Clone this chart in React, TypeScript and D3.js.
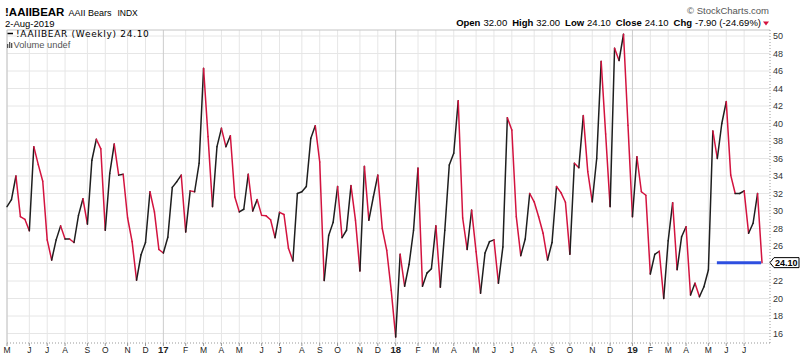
import React from "react";
import * as d3 from "d3";

// Weekly AAII Bears readings, 5-May-2016 .. 2-Aug-2019
const bearValues: number[] = [
  30.5, 31.3, 34.0, 29.35, 29.05, 27.75, 37.35, 35.3, 33.4, 26.7,
  24.4, 26.7, 28.3, 26.8, 26.8, 26.4, 29.5, 31.4, 28.5, 35.8,
  38.2, 37.1, 27.8, 34.3, 37.65, 34.1, 34.2, 29.2, 26.5, 22.1,
  25.0, 26.4, 32.2, 29.9, 25.6, 25.2, 27.0, 32.7, 33.35, 34.1,
  27.6, 32.3, 32.2, 35.45, 46.3, 38.5, 30.5, 37.35, 39.45, 37.35,
  38.6, 31.6, 29.9, 30.2, 34.2, 30.0, 31.3, 29.5, 29.45, 29.0,
  26.95, 29.85, 29.6, 25.75, 24.3, 32.0, 32.2, 32.8, 38.3, 39.75,
  35.6, 22.05, 27.2, 28.7, 32.8, 26.95, 27.8, 32.9, 28.95, 23.15,
  35.1, 28.95, 31.6, 34.1, 28.0, 25.5, 20.95, 15.6, 25.05, 21.4,
  23.9, 27.8, 34.9, 21.4, 22.9, 23.4, 28.3, 21.3, 27.8, 35.25,
  36.6, 42.6, 29.2, 25.6, 30.1, 25.35, 20.6, 25.2, 26.5, 26.7,
  21.75, 25.9, 40.65, 39.25, 29.35, 24.9, 26.8, 32.0, 31.05, 29.35,
  27.45, 24.4, 26.4, 32.8, 32.1, 31.0, 25.05, 35.45, 34.95, 40.9,
  34.5, 31.05, 36.0, 47.1, 38.8, 30.5, 48.6, 47.2, 50.2, 39.8,
  29.35, 36.2, 32.2, 31.8, 22.8, 25.05, 25.4, 20.0, 26.6, 30.95,
  23.3, 27.05, 28.2, 20.4, 21.75, 20.2, 21.35, 23.25, 39.15, 36.0,
  40.0, 42.5, 34.1, 32.0, 32.0, 32.3, 27.45, 28.6, 32.0, 24.1,
];

// Month tick labels and the week index (first weekly bar of the month)
const monthLabels: string[] = [
  "M", "J", "J", "A", "S", "O", "N", "D", "17", "F", "M", "A", "M",
  "J", "J", "A", "S", "O", "N", "D", "18", "F", "M", "A", "M",
  "J", "J", "A", "S", "O", "N", "D", "19", "F", "M", "A", "M", "J", "J",
];
const monthWeeks: number[] = [
  0, 5, 9, 13, 18, 22, 27, 31, 35, 40, 44, 48, 52,
  57, 61, 66, 70, 74, 79, 83, 87, 92, 96, 100, 105,
  109, 113, 118, 122, 126, 131, 135, 140, 144, 148, 152, 157, 161, 165,
];

const yTicks: number[] = [16, 18, 20, 22, 24, 26, 28, 30, 32, 34, 36, 38, 40, 42, 44, 46, 48, 50];

// Horizontal annotation line (blue)
const blueLineWeeks: number[] = [158.9, 168.8];
const blueLineValue = 24.1;

const lastValue = 24.1;
const ohlcLabels: string[] = ["Open", "High", "Low", "Close", "Chg"];
const ohlcValues: string[] = ["32.00", "32.00", "24.10", "24.10", "-7.90 (-24.69%)"];

const W = 800;
const H = 357;
const plotLeft = 7;
const plotRight = 770;
const plotTop = 30;
const plotBottom = 343;

const SANS = "'Liberation Sans', Arial, Helvetica, sans-serif";
const VERD = "'DejaVu Sans', Verdana, sans-serif";
const RED = "#d3133f";
const BLACK = "#1e1e1e";

export default function App() {
  const x = d3.scaleLinear().domain([0, bearValues.length - 1]).range([7, 762]);
  const y = d3.scaleLinear().domain([16, 50]).range([333.5, 36]);
  const seg = d3
    .line<[number, number]>()
    .x((d) => x(d[0]))
    .y((d) => y(d[1]));

  const segments = bearValues.slice(1).map((v, k) => {
    const prev = bearValues[k];
    return {
      d: seg([
        [k, prev],
        [k + 1, v],
      ]) as string,
      color: v >= prev ? BLACK : RED,
    };
  });

  const lastY = y(lastValue);

  return (
    <svg
      width={W}
      height={H}
      style={{ position: "absolute", left: 0, top: 0, background: "#fff" }}
    >
      {/* Header */}
      <text x={5} y={16} fontFamily={SANS} fill="#000">
        <tspan fontSize={11.5} fontWeight="bold">!AAIIBEAR</tspan>
        <tspan dx={4} fontSize={9}>AAII Bears</tspan>
        <tspan dx={6} fontSize={8.5}>INDX</tspan>
      </text>
      <text x={5} y={27} fontFamily={SANS} fontSize={9.5} fill="#000">
        2-Aug-2019
      </text>
      <text x={769} y={14} fontFamily={SANS} fontSize={9.5} fill="#555" textAnchor="end">
        © StockCharts.com
      </text>
      <text x={761} y={26} fontFamily={SANS} fontSize={9.5} fill="#000" textAnchor="end">
        {ohlcLabels.map((l, i) => (
          <React.Fragment key={l}>
            <tspan fontWeight="bold" dx={i === 0 ? 0 : 5}>{l}</tspan>
            <tspan dx={3}>{ohlcValues[i]}</tspan>
          </React.Fragment>
        ))}
      </text>
      <path d="M763,21.5 L769,21.5 L766,25.5 Z" fill={RED} />

      {/* Grid */}
      {yTicks.map((t) => (
        <line key={"h" + t} x1={plotLeft} x2={plotRight} y1={y(t)} y2={y(t)} stroke="#e6e6e6" strokeWidth={1} />
      ))}
      {monthWeeks.map((w, i) => (
        <line
          key={"v" + i}
          x1={x(w)}
          x2={x(w)}
          y1={plotTop}
          y2={plotBottom}
          stroke={/\d/.test(monthLabels[i]) ? "#cdcdcd" : "#e6e6e6"}
          strokeWidth={1}
        />
      ))}

      {/* Frame */}
      <line x1={plotLeft} x2={plotRight} y1={plotTop} y2={plotTop} stroke="#c4c4c4" />
      <line x1={plotLeft} x2={plotLeft} y1={plotTop} y2={plotBottom} stroke="#c4c4c4" />
      <line x1={plotRight} x2={plotRight} y1={plotTop} y2={plotBottom} stroke="#999" strokeDasharray="1,2" />
      <line x1={plotLeft} x2={plotRight} y1={plotBottom} y2={plotBottom} stroke="#999" strokeDasharray="1,2" />

      {/* Legend */}
      <line x1={7.5} x2={13} y1={33.5} y2={33.5} stroke="#000" strokeWidth={1.5} />
      <text x={16} y={37} fontFamily={VERD} fontSize={9} letterSpacing={0.7} fill="#000">
        !AAIIBEAR (Weekly) 24.10
      </text>
      <g fill="#555">
        <rect x={7} y={44} width={1.3} height={4} />
        <rect x={9} y={42} width={1.3} height={6} />
        <rect x={11} y={43} width={1.3} height={5} />
      </g>
      <text x={13.5} y={48} fontFamily={SANS} fontSize={9.3} fill="#555">
        Volume undef
      </text>

      {/* Series */}
      <g fill="none" strokeWidth={1.5} strokeLinecap="round" strokeLinejoin="round">
        {segments.map((s, i) => (
          <path key={i} d={s.d} stroke={s.color} />
        ))}
      </g>

      {/* Blue annotation line */}
      <line
        x1={x(blueLineWeeks[0])}
        x2={x(blueLineWeeks[1])}
        y1={y(blueLineValue)}
        y2={y(blueLineValue)}
        stroke="#2e4fe0"
        strokeWidth={3}
      />

      {/* Right axis (labels hidden behind the last-value box are skipped) */}
      {yTicks
        .filter((t) => Math.abs(y(t) - lastY) > 8)
        .map((t) => (
          <text key={"yl" + t} x={773} y={y(t) + 3.2} fontFamily={SANS} fontSize={9} fill="#333">
            {t}
          </text>
        ))}
      <g>
        <path
          d={`M770,${lastY} L774,${lastY - 5} L799,${lastY - 5} L799,${lastY + 5} L774,${lastY + 5} Z`}
          fill="#fff"
          stroke="#000"
          strokeWidth={1}
        />
        <text x={775} y={lastY + 3.3} fontFamily={SANS} fontSize={9} fontWeight="bold" fill="#000">
          {lastValue.toFixed(2)}
        </text>
      </g>

      {/* Bottom axis */}
      {monthWeeks.map((w, i) => (
        <line key={"t" + i} x1={x(w)} x2={x(w)} y1={plotBottom} y2={plotBottom + 3} stroke="#999" />
      ))}
      {monthLabels.map((l, i) => {
        const isYear = /\d/.test(l);
        return (
          <text
            key={"xl" + i}
            x={x(monthWeeks[i])}
            y={353}
            textAnchor="middle"
            fontFamily={SANS}
            fontSize={isYear ? 9.5 : 8.5}
            fontWeight={isYear ? "bold" : "normal"}
            fill="#222"
          >
            {l}
          </text>
        );
      })}
    </svg>
  );
}
